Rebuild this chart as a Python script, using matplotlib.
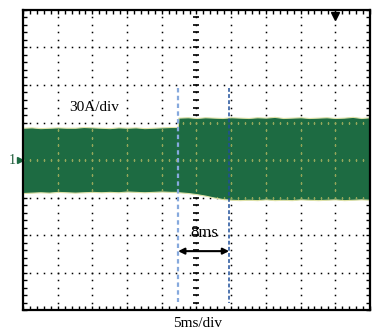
import numpy as np
import matplotlib.pyplot as plt
from matplotlib.ticker import MultipleLocator

# screen is 10 x 8 divisions, 5 ms/div and 30 A/div
# envelope of the current trace, in divisions
t_env = [0.0, 0.25, 0.5, 0.75, 1.0, 1.25, 1.5, 1.75, 2.0, 2.25, 2.5, 2.75, 3.0,
         3.25, 3.5, 3.75, 4.0, 4.25, 4.46, 4.48, 4.75, 5.0, 5.25, 5.5, 5.75,
         6.0, 6.25, 6.5, 6.75, 7.0, 7.25, 7.5, 7.75, 8.0, 8.25, 8.5, 8.75,
         9.0, 9.25, 9.5, 9.75, 10.0]
upper = [0.86, 0.87, 0.85, 0.86, 0.87, 0.86, 0.86, 0.88, 0.87, 0.86, 0.85,
         0.87, 0.86, 0.87, 0.85, 0.86, 0.87, 0.88, 0.88, 1.13, 1.14, 1.12,
         1.14, 1.13, 1.12, 1.14, 1.13, 1.12, 1.14, 1.13, 1.15, 1.12, 1.13,
         1.14, 1.12, 1.13, 1.14, 1.12, 1.13, 1.15, 1.12, 1.14]
lower = [-0.88, -0.87, -0.86, -0.87, -0.85, -0.86, -0.87, -0.86, -0.85,
         -0.86, -0.85, -0.86, -0.84, -0.85, -0.86, -0.85, -0.84, -0.85,
         -0.85, -0.86, -0.88, -0.91, -0.95, -1.0, -1.04, -1.06, -1.07,
         -1.06, -1.07, -1.05, -1.07, -1.06, -1.07, -1.05, -1.06, -1.07,
         -1.06, -1.05, -1.07, -1.06, -1.05, -1.06]

t_step = 4.47      # load step
t_end = 5.94       # 8 ms later
trig_pos = 9.0

fig = plt.figure(figsize=(3.91, 3.33), dpi=100)
ax = fig.add_axes([0.0588, 0.069, 0.8875, 0.901])
ax.set_xlim(0, 10)
ax.set_ylim(-4, 4)

green = '#1d6b42'
fill = ax.fill_between(t_env, lower, upper, color=green, edgecolor='#dfe2a8',
                       linewidth=0.8, zorder=2)
clip = fill.get_paths()[0]

# dotted graticule, black on white and faint inside the trace
sub = np.arange(0, 10.01, 0.2)
subv = np.arange(-4, 4.01, 0.2)
dots = []
for gx in [1, 2, 3, 4, 6, 7, 8, 9]:
    dots.append((np.full(len(subv), gx), subv))
for gy in [-3, -2, -1, 1, 2, 3]:
    dots.append((sub, np.full(len(sub), gy)))
dots.append((sub, np.zeros(len(sub))))
dots.append((np.full(len(subv), 5), subv))
for xs, ys in dots:
    ax.plot(xs, ys, ls='none', marker='s', ms=1.1, color='black', mew=0, zorder=1)
    d = ax.plot(xs, ys, ls='none', marker='s', ms=1.2, color='#93a75c', mew=0, zorder=3)[0]
    d.set_clip_path(clip, ax.transData)

# centre axes with dash ticks
ax.plot(np.full(len(subv), 5), subv, ls='none', marker='_', ms=4.5, mew=1.2,
        color='black', zorder=1)
ax.plot(sub, np.zeros(len(sub)), ls='none', marker='|', ms=4, mew=1,
        color='black', zorder=1)

# cursors
ax.plot([t_step, t_step], [1.92, -3.79], color='#86a9dd', lw=1.6,
        dashes=(2, 1.5), zorder=4)
ax.plot([t_end, t_end], [1.92, -3.81], color='#1f4f9a', lw=1.1,
        dashes=(2.5, 1.5), zorder=4)
ax.annotate('', xy=(t_step, -2.43), xytext=(t_end, -2.43),
            arrowprops=dict(arrowstyle='<|-|>', color='black', lw=1.5,
                            mutation_scale=9, shrinkA=0, shrinkB=0), zorder=5)

ax.text(5.22, -1.95, '8ms', fontsize=12, family='Liberation Serif',
        ha='center', va='center', zorder=5)
ax.text(2.05, 1.39, '30A/div', fontsize=11, family='Liberation Serif',
        ha='center', va='center', zorder=5)
fig.text(0.504, 0.03, '5ms/div', fontsize=11, family='Liberation Serif',
         ha='center', va='center')

# channel 1 ground marker and trigger marker
ax.text(-0.32, 0.0, '1', fontsize=10, family='Liberation Serif', color='#1d5a38',
        ha='center', va='center', clip_on=False)
ax.plot([-0.1], [0.0], marker='>', ms=4, color=green, clip_on=False, zorder=6)
ax.plot([trig_pos], [3.83], marker='v', ms=5.5, color='black', zorder=6)

# frame with small ticks
ax.xaxis.set_major_locator(MultipleLocator(1))
ax.xaxis.set_minor_locator(MultipleLocator(0.2))
ax.yaxis.set_major_locator(MultipleLocator(1))
ax.yaxis.set_minor_locator(MultipleLocator(0.2))
ax.tick_params(which='both', direction='in', length=3, width=1,
               top=True, right=True, labelbottom=False, labelleft=False)
for s in ax.spines.values():
    s.set_linewidth(1.6)
    s.set_zorder(7)

fig.savefig('out.png', dpi=100)
